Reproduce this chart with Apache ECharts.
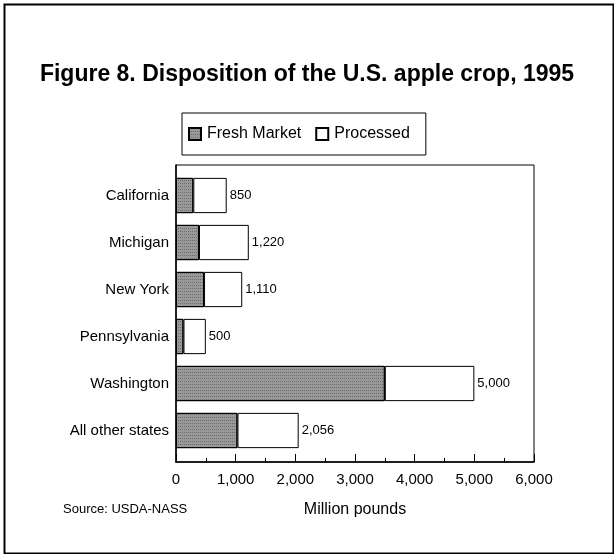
<!DOCTYPE html>
<html>
<head>
<meta charset="utf-8">
<script src="https://cdn.jsdelivr.net/npm/echarts@6/dist/echarts.min.js"></script>
<style>
  html, body { margin: 0; padding: 0; background: #fff; }
  #chart { width: 614px; height: 554px; }
</style>
</head>
<body>
<div id="chart"></div>
<script>
// 数据 - 读自原图
var states = ['California', 'Michigan', 'New York', 'Pennsylvania', 'Washington', 'All other states']
var freshMarket = [290, 385, 470, 125, 3500, 1030]
var processed = [560, 835, 640, 375, 1500, 1026]
var totals = [850, 1220, 1110, 500, 5000, 2056]
var xTicks = [0, 1000, 2000, 3000, 4000, 5000, 6000]

var FONT = '"Liberation Sans Narrow", "Liberation Sans", Arial, sans-serif'
var xMin = xTicks[0]
var xMax = xTicks[xTicks.length - 1]

var chart = echarts.init(document.getElementById('chart'))

var option = {
  backgroundColor: '#fff',
  animation: false,
  textStyle: { fontFamily: FONT, color: '#000' },
  title: {
    text: 'Figure 8. Disposition of the U.S. apple crop, 1995',
    left: 'center',
    top: 58,
    textStyle: { fontFamily: FONT, fontSize: 23, fontWeight: 'bold', color: '#000' }
  },
  legend: {
    left: 182,
    top: 113,
    padding: [13, 16, 13, 6],
    itemGap: 14,
    itemWidth: 12,
    itemHeight: 12,
    borderColor: '#000',
    borderWidth: 1,
    icon: 'rect',
    textStyle: { fontFamily: FONT, fontSize: 16, color: '#000', padding: [0, 0, 0, 1] },
    data: ['Fresh Market', 'Processed']
  },
  // grid 0: 外框 + x轴; grid 1: 条形
  grid: [
    { left: 176, top: 165, right: 80, bottom: 92, show: true, borderColor: '#000', borderWidth: 1 },
    { left: 176, top: 172, right: 80, bottom: 100 }
  ],
  xAxis: [
    {
      gridIndex: 0,
      type: 'value',
      min: xMin,
      max: xMax,
      interval: 1000,
      name: 'Million pounds',
      nameLocation: 'middle',
      nameGap: 40,
      nameTextStyle: { fontFamily: FONT, fontSize: 16, color: '#000' },
      axisLine: { show: true, lineStyle: { color: '#000', width: 1.5 } },
      axisTick: { show: true, inside: true, length: 8, lineStyle: { color: '#000' } },
      minorTick: { show: true, splitNumber: 2, length: 4, lineStyle: { color: '#000' } },
      splitLine: { show: false },
      axisLabel: {
        fontFamily: FONT,
        fontSize: 15,
        color: '#000',
        margin: 10,
        formatter: function (v) { return v.toLocaleString('en-US') }
      }
    },
    {
      gridIndex: 1,
      type: 'value',
      min: xMin,
      max: xMax,
      show: false
    }
  ],
  yAxis: [
    {
      gridIndex: 0,
      type: 'value',
      axisLine: { show: true, lineStyle: { color: '#000', width: 1.5 } },
      axisTick: { show: false },
      axisLabel: { show: false },
      splitLine: { show: false }
    },
    {
      gridIndex: 1,
      type: 'category',
      inverse: true,
      data: states,
      axisLine: { show: false },
      axisTick: { show: true, inside: true, alignWithLabel: true, length: 4, lineStyle: { color: '#000' } },
      axisLabel: { fontFamily: FONT, fontSize: 15, color: '#000', margin: 7 }
    }
  ],
  graphic: [
    {
      type: 'rect',
      left: 2,
      top: 2,
      shape: { width: 609, height: 549 },
      style: { fill: 'none', stroke: '#000', lineWidth: 2 },
      silent: true
    },
    {
      type: 'text',
      left: 63,
      top: 503,
      style: { text: 'Source: USDA-NASS', font: '13px ' + FONT, fill: '#000' }
    }
  ],
  series: [
    {
      name: 'Fresh Market',
      type: 'bar',
      stack: 'total',
      xAxisIndex: 1,
      yAxisIndex: 1,
      barCategoryGap: '25%',
      itemStyle: {
        color: '#999999',
        borderColor: '#000',
        borderWidth: 1,
        decal: {
          symbol: 'rect',
          symbolSize: 1,
          dashArrayX: [1, 1],
          dashArrayY: [1, 2],
          color: 'rgba(50,50,50,0.45)'
        }
      },
      data: freshMarket
    },
    {
      name: 'Processed',
      type: 'bar',
      stack: 'total',
      xAxisIndex: 1,
      yAxisIndex: 1,
      barCategoryGap: '25%',
      itemStyle: { color: '#fff', borderColor: '#000', borderWidth: 1 },
      label: {
        show: true,
        position: 'right',
        distance: 3,
        fontFamily: FONT,
        fontSize: 13,
        color: '#000',
        formatter: function (p) { return totals[p.dataIndex].toLocaleString('en-US') }
      },
      data: processed
    }
  ]
}

chart.setOption(option)
</script>
</body>
</html>
